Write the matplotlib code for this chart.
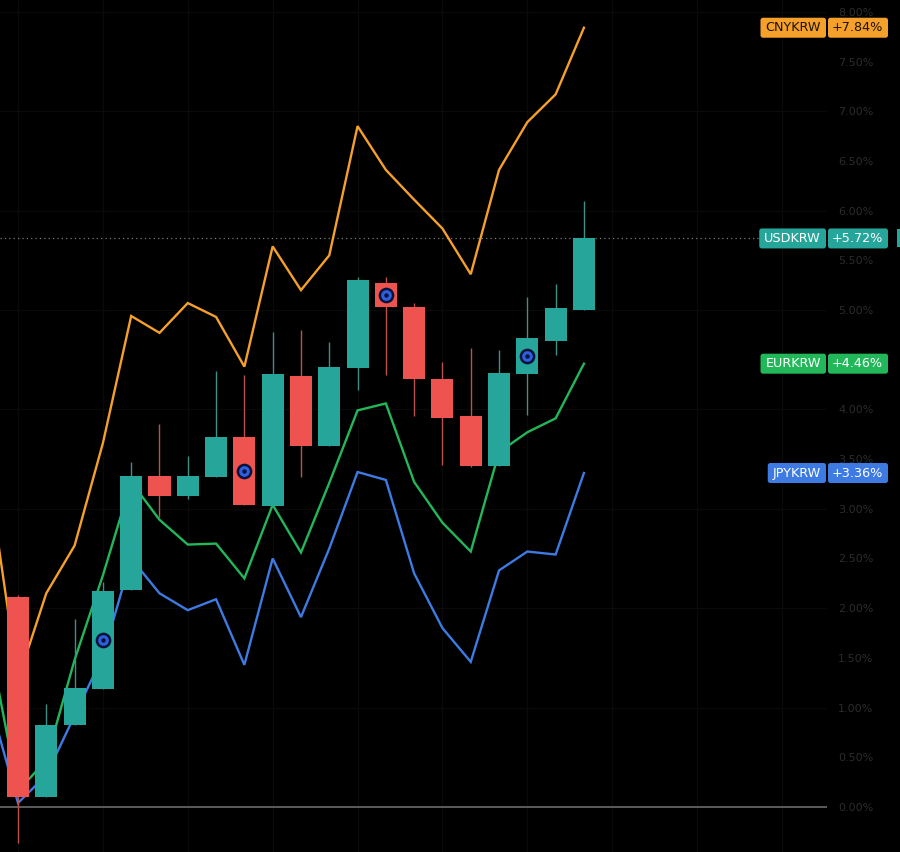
import matplotlib
matplotlib.use("Agg")
import matplotlib.pyplot as plt
from matplotlib.patches import FancyBboxPatch, Rectangle
from matplotlib.transforms import IdentityTransform
import numpy as np

# ---------------- data ----------------
# USDKRW candles (percent change), candles 1..21
usd_open  = [2.11, 0.10, 0.82, 1.19, 2.18, 3.33, 3.13, 3.32, 3.72, 3.03, 4.34,
             3.63, 4.42, 5.27, 5.03, 4.31, 3.93, 3.43, 4.36, 4.69, 5.00]
usd_close = [0.10, 0.82, 1.20, 2.17, 3.33, 3.13, 3.33, 3.72, 3.04, 4.36, 3.63,
             4.43, 5.30, 5.03, 4.31, 3.91, 3.43, 4.37, 4.72, 5.02, 5.72]
usd_high  = [2.13, 1.04, 1.89, 2.26, 3.47, 3.85, 3.53, 4.39, 4.35, 4.78, 4.80,
             4.68, 5.33, 5.33, 5.07, 4.48, 4.62, 4.60, 5.13, 5.26, 6.10]
usd_low   = [-0.36, 0.10, 0.82, 1.19, 2.18, 2.92, 3.10, 3.32, 3.04, 3.03, 3.32,
             3.63, 4.20, 4.35, 3.93, 3.44, 3.42, 3.43, 3.94, 4.55, 5.00]

# comparison lines, points 0..21 (point 0 lies just off the left edge)
cny = [3.25, 1.28, 2.15, 2.63, 3.66, 4.94, 4.77, 5.07, 4.93, 4.43, 5.64, 5.20,
       5.55, 6.85, 6.41, 6.11, 5.82, 5.36, 6.41, 6.89, 7.17, 7.84]
eur = [1.64, 0.16, 0.47, 1.48, 2.33, 3.27, 2.89, 2.64, 2.65, 2.30, 3.04, 2.56,
       3.26, 3.99, 4.06, 3.27, 2.86, 2.57, 3.57, 3.77, 3.91, 4.46]
jpy = [1.06, 0.04, 0.32, 0.92, 1.52, 2.50, 2.15, 1.98, 2.09, 1.43, 2.50, 1.91,
       2.60, 3.37, 3.29, 2.35, 1.80, 1.46, 2.38, 2.57, 2.54, 3.36]

marker_candles = [4, 9, 14, 19]

symbols = ["CNYKRW", "USDKRW", "EURKRW", "JPYKRW"]
y_ticks = [0.0, 0.5, 1.0, 1.5, 2.0, 2.5, 3.0, 3.5, 4.0, 4.5, 5.0, 5.5, 6.0,
           6.5, 7.0, 7.5, 8.0]

# ---------------- style ----------------
UP = "#26a69a"
DOWN = "#ef5350"
C_CNY = "#f5a02a"
C_EUR = "#22b85a"
C_JPY = "#3d7be3"

W, H = 900, 852
fig = plt.figure(figsize=(W / 100, H / 100), dpi=100, facecolor="black")
AXR = 827
ax = fig.add_axes([0, 0, AXR / W, 1])
ax.set_facecolor("black")

ax.set_xlim(0.364, 29.59)
ax.set_ylim(-0.453, 8.119)

# faint grid
for g in range(1, 9):
    ax.axhline(g, color="#0a0a0a", lw=1, zorder=0)
for gx in range(1, 30, 3):
    ax.axvline(gx, color="#0a0a0a", lw=1, zorder=0)

ax.axhline(0, color="#5c5c5c", lw=1.4, zorder=1)

x_line = np.arange(len(cny))
ax.plot(x_line, cny, color=C_CNY, lw=1.7, zorder=2, solid_joinstyle="miter")
ax.plot(x_line, eur, color=C_EUR, lw=1.7, zorder=2, solid_joinstyle="miter")
ax.plot(x_line, jpy, color=C_JPY, lw=1.7, zorder=2, solid_joinstyle="miter")

xc = np.arange(1, len(usd_open) + 1)
o = np.array(usd_open); c = np.array(usd_close)
hi = np.array(usd_high); lo = np.array(usd_low)
cols = [UP if cc >= oo else DOWN for oo, cc in zip(o, c)]
wick_cols = ["#3f8f87" if cc >= oo else "#b9524f" for oo, cc in zip(o, c)]
ax.vlines(xc, lo, hi, colors=wick_cols, lw=1.0, zorder=3)
ax.bar(xc, c - o, bottom=o, width=0.78, color=cols, zorder=4, linewidth=0)

mi = np.array(marker_candles)
my = (o[mi - 1] + c[mi - 1]) / 2
ax.plot(mi, my, "o", ms=9.5, mfc="#2d5fe0", mec="#0a1238", mew=1.8, zorder=5)
ax.plot(mi, my, "o", ms=3.2, mfc="#0a1238", mec="none", zorder=6)

# last price dotted line
ax.axhline(c[-1], xmin=0, xmax=760 / AXR, color="#7a7a7a", lw=0.9,
           linestyle=(0, (1, 2.5)), zorder=1)

# right axis
ax.yaxis.tick_right()
ax.set_yticks(y_ticks)
ax.set_yticklabels([f"{t:.2f}%" for t in y_ticks])
ax.tick_params(axis="y", length=0, pad=8, labelcolor="#2c2c2c", labelsize=8)
ax.set_xticks([])
for s in ax.spines.values():
    s.set_visible(False)

# label boxes
fig.canvas.draw()
renderer = fig.canvas.get_renderer()
last_vals = [cny[-1], usd_close[-1], eur[-1], jpy[-1]]
box_cols = [C_CNY, UP, C_EUR, C_JPY]
txt_cols = ["#1b1206", "white", "white", "white"]
idt = IdentityTransform()
for name, v, bc, tc in zip(symbols, last_vals, box_cols, txt_cols):
    yp = ax.transData.transform((0, v))[1]
    t1 = fig.text(0, yp / H, name, color=tc, fontsize=9.2,
                  family="DejaVu Sans", va="center", ha="right")
    tw = t1.get_window_extent(renderer).width
    left = AXR - 1 - tw - 10
    t1.set_position(((AXR - 6) / W, yp / H))
    p1 = FancyBboxPatch((left, yp - 10), AXR - 1 - left, 20,
                        boxstyle="round,pad=0,rounding_size=2.5",
                        transform=idt, facecolor=bc, edgecolor="none", zorder=1)
    fig.add_artist(p1)
    p2 = FancyBboxPatch((AXR + 1, yp - 10), 888 - AXR - 1, 20,
                        boxstyle="round,pad=0,rounding_size=2.5",
                        transform=idt, facecolor=bc, edgecolor="none", zorder=1)
    fig.add_artist(p2)
    fig.text(883 / W, yp / H, f"+{v:.2f}%", color=tc, fontsize=9.2,
             family="DejaVu Sans", va="center", ha="right", zorder=3)
    t1.set_zorder(3)
    if name == "USDKRW":
        fig.add_artist(Rectangle((897, yp - 9), 5, 18, transform=idt,
                                 facecolor=UP, edgecolor="none"))

fig.savefig("out.png", dpi=100, facecolor="black")
